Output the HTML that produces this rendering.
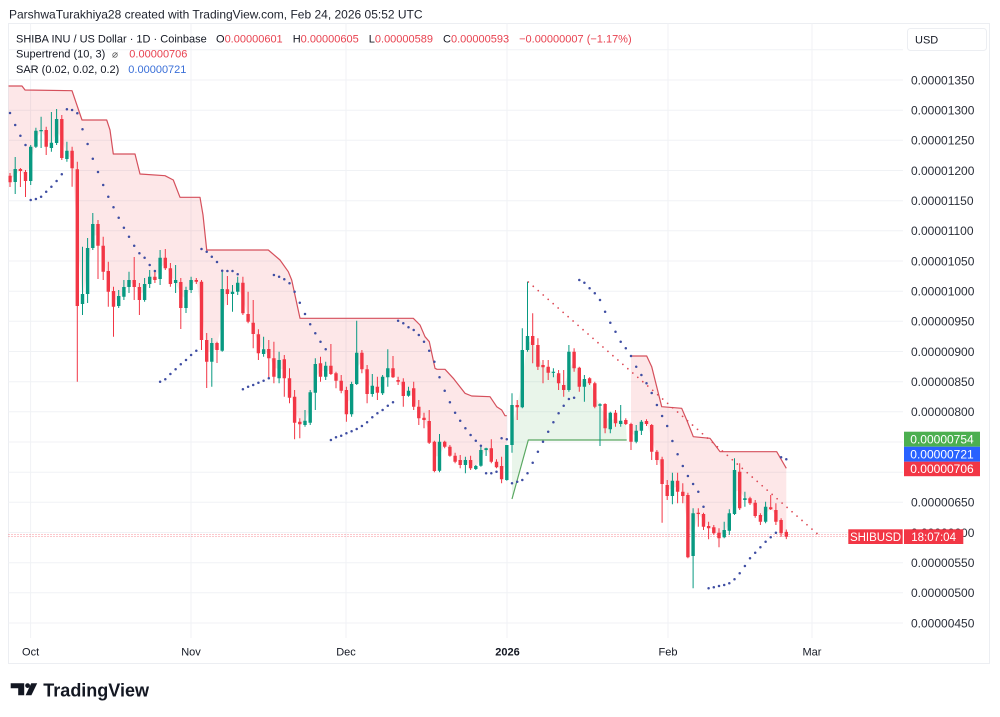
<!DOCTYPE html>
<html><head><meta charset="utf-8">
<style>
html,body{margin:0;padding:0;background:#fff;width:1000px;height:717px;overflow:hidden}
svg{position:absolute;left:0;top:0;font-family:"Liberation Sans",Arial,sans-serif}
</style></head><body>
<svg width="1000" height="717" viewBox="0 0 1000 717" xmlns="http://www.w3.org/2000/svg">
<defs><clipPath id="pane"><rect x="8.5" y="23.5" width="894.5" height="615"/></clipPath></defs>
<rect x="0" y="0" width="1000" height="717" fill="#fff"/>
<rect x="8.5" y="23.5" width="981" height="640" fill="#fff" stroke="#eceef2" stroke-width="1"/>

<!-- grid -->
<path stroke="#f0f2f5" stroke-width="1" fill="none" d="M8.5 49.8H903M8.5 80H903M8.5 110.2H903M8.5 140.3H903M8.5 170.5H903M8.5 200.7H903M8.5 230.8H903M8.5 261H903M8.5 291.2H903M8.5 321.3H903M8.5 351.5H903M8.5 381.7H903M8.5 411.8H903M8.5 442H903M8.5 472.2H903M8.5 502.3H903M8.5 532.5H903M8.5 562.7H903M8.5 592.8H903M8.5 623H903M30.6 23.5V638M191 23.5V638M346 23.5V638M507 23.5V638M668 23.5V638M812 23.5V638"/>

<g clip-path="url(#pane)">
<!-- supertrend fills -->
<polygon fill="rgba(242,54,69,0.12)" points="8,86 22,86 25,90 72,90.7 82,120 106.7,120 110,130 113.3,154 135,154 140,174 165,175.7 173.3,180 180,197.3 200,197.3 203,215 206.7,250 268.3,250 280,260 288.3,271.7 291.7,280 300,318.3 413.3,318.3 420,325 425,336.7 429.3,341.7 435,368.3 437,369.3 445,369.3 453.3,378.3 465,393.3 471.7,396 490,396.7 496.7,406.7 501.7,410 505,415.7 506.8,415.7 506.8,462.5 501.6,472.7 496.5,464.5 491.3,455 486.1,449.2 480.9,457.9 475.8,467.5 470.6,464.2 465.4,462.5 460.2,462.5 455.1,458.7 449.9,451.2 444.7,444.2 439.5,456.2 434.4,456.4 429.2,431.9 424,418.9 418.8,412.5 413.7,397.5 408.5,393.2 403.3,388.9 398.1,380.9 393,372.8 387.8,372.8 382.6,385 377.4,389.7 372.3,389.9 367.1,381.7 361.9,361 356.7,368.4 351.6,399.2 346.4,402.2 341.2,385.7 336,377 330.9,369.9 325.7,371.2 320.5,370 315.3,378.4 310.2,407.5 305,422.9 299.8,423 294.6,409.7 289.5,388 284.3,368.8 279.1,369.2 273.9,367.5 268.8,353.7 263.6,351.7 258.4,343.8 253.2,328.4 248.1,317.9 242.9,298 237.7,287.2 232.5,292.9 227.4,291.7 222.2,319.9 217,346.5 211.8,352.4 206.7,350.9 201.5,310.9 196.3,280.9 191.1,285 186,299 180.8,295 175.6,281.5 170.4,276.2 165.3,263 160.1,268.4 154.9,278.4 149.7,280.4 144.6,292 139.4,293.5 134.2,283.5 129,283.5 123.9,291.9 118.7,301 113.5,298.9 108.3,281.4 103.2,258.7 98,234.9 92.8,236 87.6,271 82.5,299 77.3,237.7 72.1,159.5 66.9,154.9 61.8,138.5 56.6,131 51.4,145.4 46.2,138.4 41.1,130.5 35.9,138.7 30.7,163.9 25.5,176.5 20.4,170 15.2,175.5 10,179 8,179"/>
<polygon fill="rgba(76,175,80,0.12)" points="512,499 528.3,440 626.7,440 625.8,422 620.7,422.4 615.5,418 610.3,421 605.1,416.2 600,405 594.8,395 589.6,380.8 584.4,382.9 579.3,377.2 574.1,360 568.9,370.9 563.7,387.5 558.6,378.3 553.4,372.2 548.2,369.7 543,366.2 537.9,355.9 532.7,340.5 527.5,343 522.3,378.7 517.2,406.2 512,425"/>
<polygon fill="rgba(242,54,69,0.12)" points="631,356 646.7,356 651.7,366.7 656.7,386.7 661.7,406.7 681.7,408.3 686.7,420 693.3,436.7 710,438.3 715,445 720,451.7 776.7,451.7 786.3,468.3 786.3,534.3 781.1,526.7 775.9,515.9 770.7,508.3 765.6,514.2 760.4,518.4 755.2,509.4 750,500.8 744.9,499.2 739.7,490 734.5,492 729.3,522 724.2,533.7 719,535.5 713.8,530.3 708.6,527.2 703.5,520.4 698.3,513.4 693.1,534.7 687.9,526.2 682.8,493.9 677.6,486.2 672.4,488.4 667.2,490.5 662.1,471.7 656.9,455.9 651.7,438.4 646.5,422.5 641.4,426.2 636.2,436.2 631,432.9"/>

<!-- price line -->
<line x1="8.5" x2="848" y1="534.5" y2="534.5" stroke="#f23645" stroke-width="1" stroke-dasharray="1 2" opacity="0.55"/>
<line x1="8.5" x2="848" y1="536.5" y2="536.5" stroke="#f23645" stroke-width="1" stroke-dasharray="1 2" opacity="0.55"/>

<!-- supertrend lines -->
<g fill="none" stroke-width="1.2" stroke-linejoin="round">
<polyline stroke="#d5505c" points="8,86 22,86 25,90 72,90.7 82,120 106.7,120 110,130 113.3,154 135,154 140,174 165,175.7 173.3,180 180,197.3 200,197.3 203,215 206.7,250 268.3,250 280,260 288.3,271.7 291.7,280 300,318.3 413.3,318.3 420,325 425,336.7 429.3,341.7 435,368.3 437,369.3 445,369.3 453.3,378.3 465,393.3 471.7,396 490,396.7 496.7,406.7 501.7,410 505,415.7 506.8,415.7"/>
<polyline stroke="#5aa862" points="512,499 528.3,440 626.7,440"/>
<polyline stroke="#d5505c" points="631,356 646.7,356 651.7,366.7 656.7,386.7 661.7,406.7 681.7,408.3 686.7,420 693.3,436.7 710,438.3 715,445 720,451.7 776.7,451.7 786.3,468.3"/>
</g>

<!-- trend line -->
<line x1="528.3" y1="282" x2="817" y2="533.5" stroke="#de4b57" stroke-width="1.8" stroke-linecap="round" stroke-dasharray="0 6.6"/>

<!-- candles -->
<path fill="none" stroke="#089981" stroke-width="1" d="M15.2 157V194M30.7 145V185M35.9 127.7V148M41.1 116.7V148M51.4 112V151.7M56.6 109V145M66.9 141.7V161.7M82.5 246.7V315M87.6 238V303M92.8 213V250M118.7 290V308M123.9 280V300M129 271.7V293M144.6 278V301.7M149.7 270V288M160.1 250V285M175.6 265V293M186 286.7V313M191.1 276.7V293M211.8 338V386.7M222.2 271.7V351.7M232.5 285V311.7M237.7 276.7V295M263.6 336.7V356.7M279.1 351.7V383.3M305 410V426.7M310.2 390V425M315.3 358.3V410M325.7 361.7V380M351.6 381.7V416.7M356.7 320.7V385M372.3 374V396.7M382.6 375V395M387.8 349.3V386.7M408.5 386.7V396.7M439.5 434V472.3M465.4 456.7V473.3M475.8 465V470M480.9 446.7V466.7M486.1 447.7V456M506.8 445V480.7M512 393.3V452.7M522.3 328.3V408.3M527.5 281.7V351.7M553.4 368.3V377.3M568.9 345V391.7M584.4 375V401.7M600 403.3V446M610.3 411.7V433.3M620.7 405V426.7M636.2 425V443.3M641.4 420V435M672.4 472.7V504.3M693.1 508.3V588.3M724.2 521.7V538.3M729.3 509.3V535M734.5 458.3V515M744.9 491.7V506.7M765.6 501.7V523.3"/>
<path fill="none" stroke="#089981" stroke-width="3.4" d="M15.2 169V182M30.7 146.7V181M35.9 130.7V146.7M41.1 130V131.3M51.4 142.7V148M56.6 119V143M66.9 150.7V159M82.5 294V304M87.6 248V294M92.8 224V248M118.7 296V306M123.9 287V296.7M129 280V287M144.6 284V300M149.7 276.7V284M160.1 257.7V279M175.6 280V283M186 290V308M191.1 280V290M211.8 343V361.7M222.2 289V350.7M232.5 291.7V294M237.7 282.7V291.7M263.6 349.3V354M279.1 360V378.3M305 420.7V425M310.2 392.3V422.7M315.3 364V392.7M325.7 365.7V376.7M351.6 384V414.3M356.7 352.7V384M372.3 385.7V394M382.6 376.7V393.3M387.8 368.3V377.3M408.5 390.7V395.7M439.5 441.7V470.7M465.4 460V465M475.8 466V469M480.9 450V465.7M486.1 448.3V450M506.8 445V480M512 405V445M522.3 350V407.3M527.5 336V350M553.4 371.7V372.9M568.9 351.7V390M584.4 379V386.7M600 404.3V405.7M610.3 412.7V429.3M620.7 420.7V424M636.2 430.7V441.7M641.4 421.7V430.7M672.4 480.7V496M693.1 513.3V556M724.2 530V537.3M729.3 513.3V530.7M734.5 470V514M744.9 498.3V500M765.6 506.7V521.7"/>
<path fill="none" stroke="#f23645" stroke-width="1" d="M10 173V187M20.4 168V187M25.5 170V197M46.2 126.7V155M61.8 115V160M72.1 146.7V186.7M77.3 161.7V381.7M98 220V279M103.2 236.7V280M108.3 261.7V306.7M113.5 286.7V336.7M134.2 257V300M139.4 283V315M154.9 271.7V283M165.3 249V270M170.4 263V286.7M180.8 278V329M196.3 278V284M201.5 280V350M206.7 333V388M217 341.7V363M227.4 276V305M242.9 276.7V315M248.1 291.7V323.3M253.2 300V348.3M258.4 329.3V360M268.8 340V378.3M273.9 341.7V383.3M284.3 355V396.7M289.5 368.3V403.3M294.6 390V439.3M299.8 418.3V438.3M320.5 356.7V381.7M330.9 344V375M336 371.7V388.3M341.2 375V393.3M346.4 386.7V421.7M361.9 350V373.3M367.1 365V403.3M377.4 376.7V400M393 356V378M398.1 376.7V385M403.3 378.3V406.7M413.7 381.7V410M418.8 400V425M424 412.7V428.3M429.2 410V444M434.4 440.7V472.3M444.7 440.7V448.3M449.9 445V456.7M455.1 452.7V463.3M460.2 455V468.3M470.6 455.7V470M491.3 439.3V463.3M496.5 459.3V468.3M501.6 456.7V483.3M517.2 400V420M532.7 313.3V363.3M537.9 338.3V370M543 360V383.3M548.2 360V380M558.6 370V390M563.7 370V396.7M574.1 348.3V371.7M579.3 366.7V391.7M589.6 377.3V385M594.8 381.7V408.3M605.1 403.3V433.3M615.5 410V426.7M625.8 418.3V425M631 422.7V450M646.5 419.3V426M651.7 424V460M656.9 450V465M662.1 456.7V522.7M667.2 480V500M677.6 472.7V503.3M682.8 483.3V503.3M687.9 492.7V558.3M698.3 508.3V526.7M703.5 512.7V530M708.6 521.7V539.3M713.8 525V535M719 528.3V547.3M739.7 463.3V510M750 496.7V505M755.2 500V517.7M760.4 513.3V525M770.7 495V510M775.9 503.3V525M781.1 518.3V536.7M786.3 529.5V539.1"/>
<path fill="none" stroke="#f23645" stroke-width="3.4" d="M10 175.7V182.3M20.4 169V171M25.5 172V181M46.2 130V146.7M61.8 119V158M72.1 150.7V168.3M77.3 169.3V306M98 224V245.7M103.2 245.7V271.7M108.3 271V291.7M113.5 291V306.7M134.2 280V287M139.4 287V300M154.9 276.7V280M165.3 257.7V268.3M170.4 268.3V284M180.8 282V308M196.3 280V281.7M201.5 281.7V340M206.7 340V361.7M217 343V350M227.4 289.3V294M242.9 282.7V313.3M248.1 314V321.7M253.2 322.7V334M258.4 334.3V353.3M268.8 349V358.3M273.9 358.3V376.7M284.3 359.3V378.3M289.5 378.3V397.7M294.6 396.7V422.7M299.8 421.7V424.3M320.5 363.3V376.7M330.9 365.7V374M336 373.3V380.7M341.2 380.7V390.7M346.4 390V414.3M361.9 352.7V369.3M367.1 369.3V394M377.4 386.7V392.7M393 368.3V377.3M398.1 380V381.7M403.3 381.7V396M413.7 388.3V406.7M418.8 406.7V418.3M424 417.7V420M429.2 421V442.7M434.4 441.7V471M444.7 441.7V446.7M449.9 446.7V455.7M455.1 455.7V461.7M460.2 460V465M470.6 460V468.3M491.3 448.3V461.7M496.5 461.7V467.3M501.6 466V479.3M517.2 405V407.3M532.7 336V345M537.9 345V366.7M543 365V367.3M548.2 366.7V372.7M558.6 373.3V383.3M563.7 385V390M574.1 351.7V368.3M579.3 367.7V386.7M589.6 378.3V383.3M594.8 383.3V406.7M605.1 404V428.3M615.5 412.7V423.3M625.8 420V424M631 424V441.7M646.5 421V424M651.7 425V451.7M656.9 451.7V460M662.1 459.3V484M667.2 485V496M677.6 480.7V491.7M682.8 491.7V496M687.9 495V557.3M698.3 512.7V514M703.5 514V526.7M708.6 526V528.3M713.8 527.3V533.3M719 532.7V538.3M739.7 471.7V508.3M750 498.3V503.3M755.2 502.7V516M760.4 515V521.7M770.7 507.3V509.3M775.9 510V521.7M781.1 520V533.3M786.3 531.9V536.7"/>

<!-- SAR dots -->
<path fill="none" stroke="#3f4ea3" stroke-width="2.5" stroke-linecap="round" d="M10 113h0M15.2 125h0M20.4 135.7h0M25.5 145h0M30.7 200h0M35.9 199h0M41.1 196.7h0M46.2 191.7h0M51.4 186.7h0M56.6 181h0M61.8 174.3h0M66.9 109.3h0M72.1 110h0M77.3 113.3h0M82.5 129.3h0M87.6 144h0M92.8 158.7h0M98 172h0M103.2 185h0M108.3 196.7h0M113.5 207.3h0M118.7 217.7h0M123.9 227.7h0M129 236.7h0M134.2 245.7h0M139.4 253.3h0M144.6 257.7h0M149.7 265h0M154.9 271h0M160.1 381.7h0M165.3 379.3h0M170.4 374h0M175.6 369.3h0M180.8 364.3h0M186 360h0M191.1 355h0M196.3 350.7h0M201.5 249h0M206.7 251.7h0M211.8 256.7h0M217 262h0M222.2 270.7h0M227.4 271h0M232.5 271h0M237.7 274.3h0M242.9 389.3h0M248.1 386.7h0M253.2 385h0M258.4 382.7h0M263.6 380.7h0M268.8 378.3h0M273.9 275h0M279.1 276.7h0M284.3 279.3h0M289.5 283.3h0M294.6 291.7h0M299.8 302.7h0M305 314h0M310.2 324.3h0M315.3 333.3h0M320.5 341.7h0M325.7 349.3h0M330.9 440h0M336 437.3h0M341.2 435.7h0M346.4 433.3h0M351.6 431.3h0M356.7 429h0M361.9 426h0M367.1 422.3h0M372.3 417.3h0M377.4 413.3h0M382.6 410h0M387.8 405.7h0M393 402.3h0M398.1 320.7h0M403.3 323.3h0M408.5 327.3h0M413.7 330h0M418.8 335h0M424 341.7h0M429.2 350.7h0M434.4 361.7h0M439.5 377.3h0M444.7 390.7h0M449.9 402.3h0M455.1 412.7h0M460.2 420.7h0M465.4 428.3h0M470.6 435h0M475.8 440.7h0M480.9 445.7h0M486.1 473.3h0M491.3 473.3h0M496.5 471.7h0M501.6 438.3h0M506.8 439.3h0M512 483.3h0M517.2 481.7h0M522.3 480h0M527.5 473.3h0M532.7 462.7h0M537.9 451.7h0M543 441.7h0M548.2 431.7h0M553.4 422.3h0M558.6 413.3h0M563.7 405.7h0M568.9 399h0M574.1 397.7h0M579.3 280h0M584.4 282.7h0M589.6 288.3h0M594.8 293.3h0M600 300h0M605.1 311.7h0M610.3 322.7h0M615.5 331.7h0M620.7 341.7h0M625.8 348.3h0M631 356h0M636.2 366.7h0M641.4 375h0M646.5 383.3h0M651.7 393h0M656.9 405h0M662.1 416h0M667.2 426h0M672.4 441h0M677.6 454.3h0M682.8 466h0M687.9 476h0M693.1 484h0M698.3 491.7h0M703.5 506.7h0M708.6 588.3h0M713.8 587.3h0M719 586h0M724.2 585h0M729.3 583.3h0M734.5 579.3h0M739.7 573.3h0M744.9 566h0M750 558.3h0M755.2 552.7h0M760.4 547.3h0M765.6 541.7h0M770.7 537.3h0M775.9 532.7h0M781.1 457.3h0M786.3 459.3h0"/>
</g>

<!-- header -->
<text x="9" y="18.5" font-size="12" fill="#1e222d">ParshwaTurakhiya28 created with TradingView.com, Feb 24, 2026 05:52 UTC</text>
<text y="42.3" font-size="11" fill="#131722"><tspan x="16">SHIBA INU / US Dollar · 1D · Coinbase</tspan><tspan x="216">O</tspan><tspan fill="#e8414f">0.00000601</tspan><tspan dx="10">H</tspan><tspan fill="#e8414f">0.00000605</tspan><tspan dx="10">L</tspan><tspan fill="#e8414f">0.00000589</tspan><tspan dx="10">C</tspan><tspan fill="#e8414f">0.00000593</tspan><tspan dx="10" fill="#e8414f">−0.00000007 (−1.17%)</tspan></text>
<text x="16" y="57.3" font-size="11" fill="#131722">Supertrend (10, 3)</text>
<text x="112" y="57.3" font-size="10" fill="#555">⌀</text>
<text x="129.3" y="57.3" font-size="11" fill="#e8414f">0.00000706</text>
<text x="16" y="73" font-size="11" fill="#131722">SAR (0.02, 0.02, 0.2)</text>
<text x="128.3" y="73" font-size="11" fill="#3a6fd8">0.00000721</text>

<!-- USD box -->
<rect x="907.5" y="28.5" width="79" height="22" rx="3" fill="#fff" stroke="#eceef2"/>
<text x="915" y="43.5" font-size="11" fill="#131722">USD</text>

<!-- price labels -->
<g font-size="12" fill="#2a2e39">
<text x="911" y="84.3">0.00001350</text>
<text x="911" y="114.5">0.00001300</text>
<text x="911" y="144.6">0.00001250</text>
<text x="911" y="174.8">0.00001200</text>
<text x="911" y="205">0.00001150</text>
<text x="911" y="235.1">0.00001100</text>
<text x="911" y="265.3">0.00001050</text>
<text x="911" y="295.5">0.00001000</text>
<text x="911" y="325.6">0.00000950</text>
<text x="911" y="355.8">0.00000900</text>
<text x="911" y="386">0.00000850</text>
<text x="911" y="416.1">0.00000800</text>
<text x="911" y="506.6">0.00000650</text>
<text x="911" y="536.8">0.00000600</text>
<text x="911" y="567">0.00000550</text>
<text x="911" y="597.1">0.00000500</text>
<text x="911" y="627.3">0.00000450</text>
</g>

<!-- colored axis labels -->
<rect x="904" y="431.7" width="76" height="15" fill="#4caf50"/>
<text x="942" y="443.5" font-size="12" fill="#fff" text-anchor="middle">0.00000754</text>
<rect x="904" y="446.7" width="76" height="15" fill="#2962ff"/>
<text x="942" y="458.5" font-size="12" fill="#fff" text-anchor="middle">0.00000721</text>
<rect x="904" y="461.7" width="76" height="14.5" fill="#f23645"/>
<text x="942" y="473.2" font-size="12" fill="#fff" text-anchor="middle">0.00000706</text>

<rect x="848.3" y="529.3" width="54.4" height="14.7" fill="#f23645"/>
<text x="875.5" y="541" font-size="11.5" fill="#fff" text-anchor="middle">SHIBUSD</text>
<rect x="904" y="529.3" width="59.3" height="14.7" fill="#f23645"/>
<text x="933.6" y="541" font-size="11.5" fill="#fff" text-anchor="middle">18:07:04</text>

<!-- time axis -->
<g font-size="11" fill="#131722" text-anchor="middle">
<text x="30.6" y="655.7">Oct</text>
<text x="191" y="655.7">Nov</text>
<text x="346" y="655.7">Dec</text>
<text x="507.5" y="655.7" font-weight="bold">2026</text>
<text x="668" y="655.7">Feb</text>
<text x="812" y="655.7">Mar</text>
</g>

<!-- logo -->
<g fill="#131722">
<path d="M10.7 683.2 H24.2 V695.2 H18.2 V688.2 H10.7 Z"/>
<circle cx="27.6" cy="685.6" r="2.4"/>
<path d="M31.2 683.2 H37.2 L31.4 695.2 H25.6 Z"/>
</g>
<text x="43.3" y="696.5" font-size="18" font-weight="bold" fill="#131722">TradingView</text>
</svg>
</body></html>
